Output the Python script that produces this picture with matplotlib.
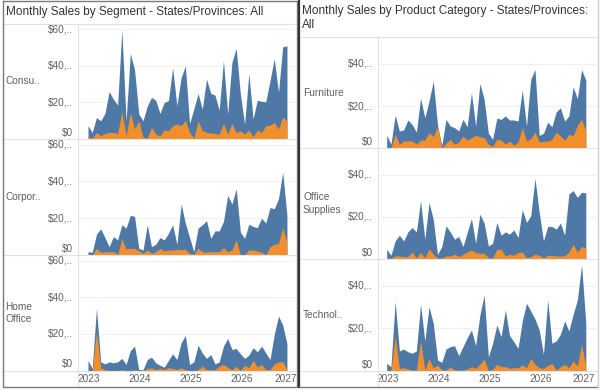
import matplotlib
matplotlib.use("Agg")
import matplotlib.pyplot as plt
import numpy as np

plt.rcParams["font.family"] = ["Liberation Sans", "DejaVu Sans"]

BLUE = "#4e79a7"
ORANGE = "#f28e2b"
GRID = "#f0f0f0"
LINE = "#e2e2e2"
TEXT = "#606060"
TITLE = "#333333"

W, H = 600, 391

# monthly values in $ thousands, Jan 2023 .. Dec 2026
months = np.arange(48)
year_ticks = [0, 12, 24, 36, 48]
year_labels = ["2023", "2024", "2025", "2026", "2027"]

# left panel: segments
consumer_total = [7.3, 3.6, 11.8, 10, 14, 26, 21.8, 18.6, 60, 10, 46.8, 38, 13.7, 10, 18, 22.8,
                  21.3, 14, 20, 21, 39, 18.2, 33.7, 40, 8.5, 16.4, 25, 16.4, 32.8, 25, 24, 15.8,
                  43, 13.7, 42, 49.7, 24.6, 8.2, 35.9, 11, 21.3, 20.6, 20.4, 32, 44, 25.5, 50.5, 51]
consumer_orange = [1, 0.5, 3.6, 1.8, 3, 3.6, 3.6, 3, 15, 1.8, 14.5, 5.5, 10, 1, 0.5, 6.4,
                   2.7, 1.8, 4.9, 4.5, 7.3, 8.2, 7.3, 10.4, 3.6, 0.5, 10, 4.5, 3.6, 3.3, 3, 2.7,
                   8.5, 2.7, 8.5, 3.6, 4.5, 2.7, 4.9, 1.3, 4.9, 3.6, 7.3, 7.6, 9, 5.5, 12, 9.6]
corporate_total = [1.8, 1.5, 11.3, 14.2, 9.5, 4.5, 10, 8.2, 16.4, 14.6, 21.5, 21, 3.6, 2.7, 16.4, 4.5,
                   5.8, 9.5, 8.2, 11.8, 16.4, 5.8, 27.7, 17.3, 9.5, 1.8, 14.6, 16.4, 18.6, 9.1, 13.1, 13.1,
                   18.2, 32.4, 27.7, 36, 12.4, 9.1, 16.7, 15.5, 14.9, 20, 17.3, 25.8, 25.1, 30.6, 45, 21.5]
corporate_orange = [0.4, 0, 3.6, 1.5, 1.8, 1.8, 1.8, 0.4, 8.7, 3.3, 3.6, 3.6, 2.2, 0.9, 2.7, 0.9,
                    1.8, 3.6, 2.2, 2.7, 2.7, 3.1, 2.7, 3.3, 0.9, 0.4, 3.6, 1.8, 1.5, 1.8, 1.8, 1.8,
                    4, 1.8, 2.7, 8.2, 0, 0.1, 2.7, 2.7, 2.2, 1.5, 0.1, 4.5, 5.8, 6.4, 15, 6.4]
home_total = [5.5, 1.1, 33.9, 4.7, 3.6, 4.7, 4.2, 4.7, 6.6, 3.3, 10.9, 13.3, 0.5, 0.4, 6, 7.3,
              4.2, 2.9, 1.8, 5.5, 9.1, 6, 15.1, 19.1, 3.3, 4.7, 13.8, 9.6, 6.6, 8.7, 3.6, 4.7,
              13.3, 17.5, 11.5, 12, 9.1, 6.6, 8.4, 12.4, 10.2, 13.3, 9.6, 6, 19.7, 29.7, 24.8, 14.6]
home_orange = [0, 0, 21, 1.5, 0.4, 0, 0, 0, 0.4, 0, 0, 0.4, 0, 0, 1.1, 1.5,
               0.5, 1.1, 0.5, 1.5, 1.1, 0.5, 1.5, 0.4, 0, 0, 0.4, 2.4, 0.5, 0.5, 0.4, 2.4,
               3.3, 1.8, 0.4, 2.4, 0, 2.9, 1.5, 5.5, 1.8, 3.3, 0.5, 0.5, 3.6, 4.7, 4.7, 0.5]

# right panel: product categories
furniture_total = [6.3, 1.9, 15.7, 8.2, 8.7, 13.4, 11.3, 7.7, 23.8, 14.5, 22.4, 31.8, 10.9, 1.4, 13.7, 10.6,
                   9.8, 8.2, 13.7, 10.2, 26.3, 10.6, 30.7, 23.2, 7.1, 4.3, 14.3, 13.7, 15.3, 13.4, 13.4, 12.9,
                   27.6, 10.6, 32.6, 37.3, 6.1, 7.1, 12.4, 10.2, 17.2, 19.2, 12.9, 15.3, 29.1, 23.5, 37.3, 32.3]
furniture_orange = [0.2, 0, 6.6, 1.9, 3.5, 3.5, 3.5, 1.9, 3.9, 3.9, 7.4, 5.5, 10.2, 0.3, 2.4, 4.3,
                    1.9, 3, 5.8, 3.9, 5, 6.1, 5.5, 5, 1.9, 0.8, 4.3, 3.9, 1.9, 3.5, 1.4, 3,
                    9.8, 3.5, 4.6, 7.7, 3, 3.3, 3.3, 4.3, 7.7, 5.8, 3.9, 6.6, 6.1, 10.9, 13.7, 8.2]
office_total = [4.5, 1.6, 8.5, 11.2, 8.5, 12.8, 14.9, 12.8, 27.7, 9.3, 26.9, 18.6, 2.1, 5.8, 15.7, 12.8,
                9.3, 10.6, 5.8, 12.5, 19.2, 7.4, 21.3, 17, 6.1, 7.4, 17.3, 11.2, 12.8, 11.7, 13.8, 10.1,
                23.4, 17.3, 20.5, 38.4, 22.1, 8.5, 15.4, 15.4, 14.1, 17, 11.2, 30.9, 32.5, 29.3, 31.7, 31.4]
office_orange = [0.3, 0.2, 1.3, 1.3, 1, 1, 3.2, 0.5, 2.9, 0.5, 4.8, 2.1, 0.3, 0.3, 1.3, 1.3,
                 2.1, 1, 2.1, 3.2, 4.2, 2.9, 2.6, 2.6, 0.5, 0.3, 4.5, 4.5, 1.3, 2.1, 1.6, 2.9,
                 3.2, 0.5, 1, 2.1, 1.6, 0.5, 1.6, 1.6, 1.3, 1.3, 1.3, 3.2, 6.9, 3.2, 5.8, 5.3]
tech_total = [3.5, 1.9, 32.5, 9.3, 10.2, 8.9, 8.2, 9.3, 31.2, 14, 30.1, 22.3, 5, 3.9, 10.2, 11.3,
              11.8, 7.1, 11.3, 15.5, 19.2, 11.8, 26.2, 35.6, 6.6, 12.9, 21.5, 16, 28.6, 16.5, 13.7, 10.5,
              23.4, 31.7, 28.1, 24.3, 19.2, 7.7, 33.3, 12.9, 14, 17.1, 23.4, 18.7, 26.5, 33.3, 49.8, 22.3]
tech_orange = [0.2, 0, 16, 1.1, 1.4, 0.8, 0.3, 0.3, 14, 0.3, 5.8, 1.4, 2.7, 0.3, 0.3, 1.9,
               0.3, 0.3, 0.3, 0.8, 1.9, 1.1, 3, 5.5, 0, 0.8, 3, 1.9, 1.9, 1.1, 1.4, 1.4,
               2.7, 1.4, 5.8, 3, 1.4, 1.1, 2.4, 3.5, 0.3, 1.9, 3, 1.4, 4.6, 2.4, 12.4, 1.9]

left_labels = ["Consu..", "Corpor..", "Home\nOffice"]
left_ticks = [0, 20, 40, 60]
left_tick_labels = ["$0", "$20,..", "$40,..", "$60,.."]
right_labels = ["Furniture", "Office\nSupplies", "Technol.."]
right_ticks = [0, 20, 40]
right_tick_labels = ["$0", "$20,..", "$40,.."]

fig = plt.figure(figsize=(W / 100, H / 100), dpi=100)


def add_px_axes(x0, y0, x1, y1):
    return fig.add_axes([x0 / W, 1 - y1 / H, (x1 - x0) / W, (y1 - y0) / H])


def px_text(x, y, s, **kw):
    fig.text(x / W, 1 - y / H, s, **kw)


# draws one row of the small multiples
def draw_row(box, total, part, ymax, ticks, tick_labels, xlim, bottom):
    ax = add_px_axes(*box)
    ax.fill_between(months, 0, total, color=BLUE, lw=0)
    ax.fill_between(months, 0, part, color=ORANGE, lw=0)
    ax.set_xlim(*xlim)
    ax.set_ylim(0, ymax)
    ax.set_xticks([])
    ax.set_yticks([])
    for s in ax.spines.values():
        s.set_visible(False)
    for t, lab in zip(ticks, tick_labels):
        ax.axhline(t, color=GRID, lw=0.8, zorder=0)
        dy = 6 if t == 0 else 0
        ax.annotate(lab, xy=(0, t), xycoords=("axes fraction", "data"), xytext=(-5, dy),
                    textcoords="offset pixels", ha="right", va="center",
                    fontsize=7.2, color=TEXT, annotation_clip=False)
    if bottom:
        for i, (t, lab) in enumerate(zip(year_ticks, year_labels)):
            dx = -6 if i == len(year_ticks) - 1 else 1
            ax.annotate(lab, xy=(t, 0), xycoords=("data", "axes fraction"), xytext=(dx, -8),
                        textcoords="offset pixels", ha="center", va="center",
                        fontsize=7.2, color=TEXT, annotation_clip=False)
    return ax


# left panel
left_rows = [(24, 139), (139, 255), (255, 370.5)]
left_data = [(consumer_total, consumer_orange), (corporate_total, corporate_orange),
             (home_total, home_orange)]
for i, ((y0, y1), (tot, org)) in enumerate(zip(left_rows, left_data)):
    draw_row((78, y0, 295, y1), tot, org, 63, left_ticks, left_tick_labels,
             (-2.36, 48.9), i == 2)
    px_text(5, (y0 + y1) / 2, left_labels[i], fontsize=7.3, color=TEXT, va="center",
            linespacing=1.3)

# right panel
right_rows = [(37, 148.3), (148.3, 258.7), (258.7, 370.7)]
right_data = [(furniture_total, furniture_orange), (office_total, office_orange),
              (tech_total, tech_orange)]
for i, ((y0, y1), (tot, org)) in enumerate(zip(right_rows, right_data)):
    draw_row((378, y0, 596, y1), tot, org, 52.7, right_ticks, right_tick_labels,
             (-2.05, 49.4), i == 2)
    px_text(303, (y0 + y1) / 2, right_labels[i], fontsize=7.3, color=TEXT, va="center",
            linespacing=1.3)

# titles
px_text(6, 12, "Monthly Sales by Segment - States/Provinces: All", fontsize=8.5,
        color=TITLE, va="center")
px_text(302, 11, "Monthly Sales by Product Category - States/Provinces:", fontsize=8.5,
        color=TITLE, va="center")
px_text(302, 25, "All", fontsize=8.5, color=TITLE, va="center")

# separators and borders on an overlay
ov = fig.add_axes([0, 0, 1, 1])
ov.set_xlim(0, W)
ov.set_ylim(H, 0)
ov.axis("off")
ov.patch.set_alpha(0)
ov.set_zorder(5)

for y in [23.5, 139, 255, 370.5]:
    ov.plot([3, 296], [y, y], color=LINE, lw=0.8)
ov.plot([78, 78], [23.5, 386.5], color=LINE, lw=0.8)
for y in [37, 148.3, 258.7, 370.7]:
    ov.plot([300, 597], [y, y], color=LINE, lw=0.8)
ov.plot([378, 378], [37, 386.5], color=LINE, lw=0.8)

ov.plot([2.5, 296.5, 296.5, 2.5, 2.5], [0.5, 0.5, 386.7, 386.7, 0.5], color="#7a7a7a", lw=1)
ov.plot([299.3, 299.3], [0, 387], color="#333333", lw=1.6)
ov.plot([299.3, 598], [386.7, 386.7], color="#7a7a7a", lw=1)
ov.plot([598, 598], [0, 387], color="#cfcfcf", lw=1)

fig.savefig("out.png", dpi=100)
